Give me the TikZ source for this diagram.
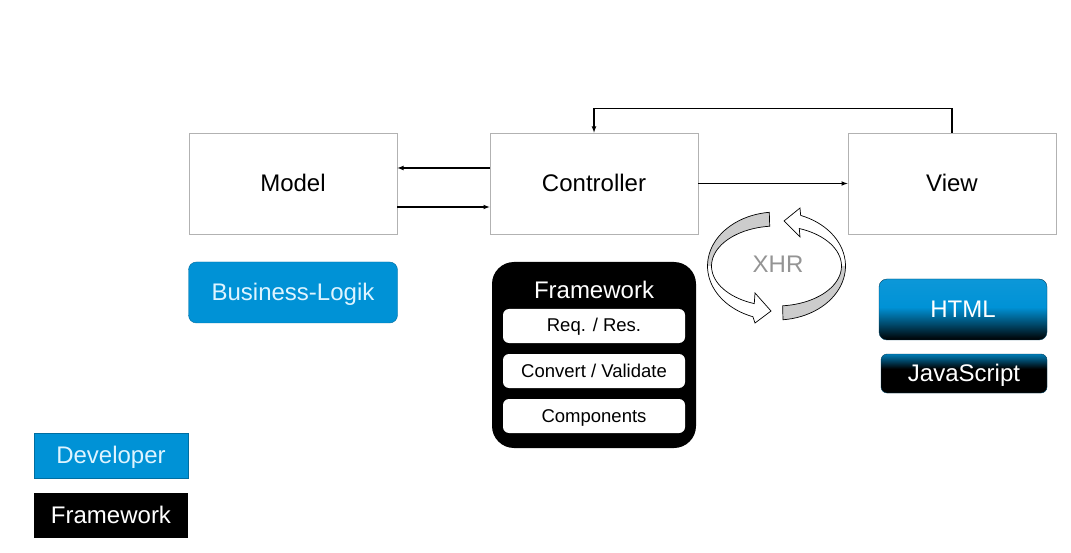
\documentclass[tikz,border=0pt]{standalone}
\usepackage{fontspec}
\setmainfont{Liberation Sans}
\usepackage{tikz}

\definecolor{entwickler}{RGB}{0,146,214}
\definecolor{hell}{RGB}{222,244,255}
\definecolor{xhrgrau}{RGB}{204,204,204}
\pgfdeclareverticalshading{htmlverlauf}{100bp}{color(0bp)=(black); color(25bp)=(black); color(38bp)=(entwickler!50!black); color(52bp)=(entwickler); color(75bp)=(entwickler!95!white); color(100bp)=(entwickler!95!white)}
\pgfdeclareverticalshading{jsverlauf}{100bp}{color(0bp)=(black); color(25bp)=(black); color(56bp)=(black); color(75bp)=(entwickler!85!black); color(100bp)=(entwickler!85!black)}

\begin{document}
\begin{tikzpicture}[x=1pt, y=-1pt]
			\tikzset{gross/.style={font=\fontsize{24}{28}\selectfont, text height=21pt, text depth=5pt}, klein/.style={font=\fontsize{18.5}{22}\selectfont, text height=16pt, text depth=4pt},
				kasten/.style={draw=black!30, line width=0.8pt, minimum width=208pt, minimum height=101pt, gross},
				blau/.style={fill=entwickler, draw=entwickler!75!black, text=hell, gross},
				modul/.style={fill=white, rounded corners=6pt, minimum width=182pt, minimum height=34pt, klein},
				legende/.style={minimum width=154pt, minimum height=45pt, gross},
				pfeil/.style={>=latex, ->, line width=1.1pt}, band/.style={draw=black, line width=0.7pt}};

			\useasboundingbox (0,0) rectangle (1071,553);

			\node[kasten] (model) at (293,183.5) {Model};
			\node[kasten] (ctrl)  at (594,183.5) {Controller};
			\node[kasten] (view)  at (952,183.5) {View};

			\node[blau, rounded corners=8pt, minimum width=209pt, minimum height=61pt] (logik) at (293,292.5) {Business-Logik};

			\node[fill=black, rounded corners=22pt, minimum width=204pt, minimum height=186pt] (fw) at (594,355) {};
			\node[gross, text=white] (fwtitel) at (594,291) {Framework};
			\node[modul] (req)  at (594,326) {Req. / Res.};
			\node[modul] (conv) at (594,371) {Convert / Validate};
			\node[modul] (comp) at (594,416) {Components};

			\node[gross, text=black!42] (xhr) at (778,265) {XHR};

			\node[shade, shading=htmlverlauf, draw=entwickler!45!black, rounded corners=8pt, minimum width=168pt, minimum height=61pt, gross, text=white] (html) at (963,309.5) {HTML};
			\node[shade, shading=jsverlauf, draw=entwickler!45!black, rounded corners=6pt, minimum width=166pt, minimum height=39pt, gross, text=white] (js) at (964,373.5) {JavaScript};

			\node[legende, blau] (dev) at (111,455.5) {Developer};
			\node[legende, fill=black, text=white] (fwleg) at (111,515.5) {Framework};

			\draw[pfeil] ([yshift=15.5pt]ctrl.west) -- ([yshift=15.5pt]model.east);
			\draw[pfeil] ([yshift=-23.5pt]model.east) -- ([yshift=-23.5pt]ctrl.west);
			\draw[pfeil] (ctrl.east) -- (view.west);
			\draw[pfeil] (view.north) -- ++(0,-24) -| (ctrl.north);

			\fill[white] plot[domain=264:110, samples=40] ({776.5+69*cos(\x)},{266+54*sin(\x)}) -- (755,323) -- (771,311) -- (755,293) -- plot[domain=110:264, samples=40] ({776.5+65*cos(\x)},{266+40*sin(\x)}) -- cycle;
			\fill[xhrgrau] plot[domain=264:180, samples=30] ({776.5+69*cos(\x)},{266+54*sin(\x)}) -- plot[domain=180:264, samples=30] ({776.5+65*cos(\x)},{266+40*sin(\x)}) -- cycle;
			\draw[band] plot[domain=264:110, samples=40] ({776.5+69*cos(\x)},{266+54*sin(\x)}) -- (755,323) -- (771,311) -- (755,293) -- plot[domain=110:264, samples=40] ({776.5+65*cos(\x)},{266+40*sin(\x)}) -- cycle;

			\fill[white] plot[domain=84.6:-69.5, samples=40] ({776.5+69*cos(\x)},{266+54*sin(\x)}) -- (800,208) -- (784,221) -- (800,237) -- plot[domain=-69.5:84.6, samples=40] ({776.5+65*cos(\x)},{266+40*sin(\x)}) -- cycle;
			\fill[xhrgrau] plot[domain=84.6:0, samples=30] ({776.5+69*cos(\x)},{266+54*sin(\x)}) -- plot[domain=0:84.6, samples=30] ({776.5+65*cos(\x)},{266+40*sin(\x)}) -- cycle;
			\draw[band] plot[domain=84.6:-69.5, samples=40] ({776.5+69*cos(\x)},{266+54*sin(\x)}) -- (800,208) -- (784,221) -- (800,237) -- plot[domain=-69.5:84.6, samples=40] ({776.5+65*cos(\x)},{266+40*sin(\x)}) -- cycle;

		\end{tikzpicture}
\end{document}
